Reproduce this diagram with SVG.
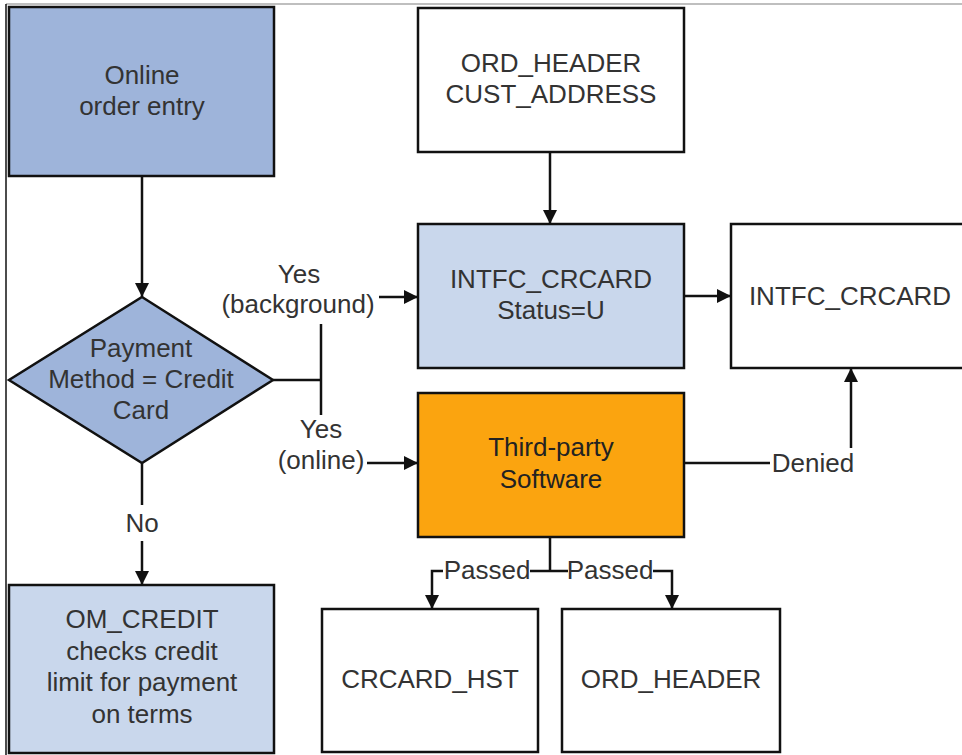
<svg xmlns="http://www.w3.org/2000/svg" width="962" height="755" viewBox="0 0 962 755">
<defs>
<marker id="ah" markerWidth="14" markerHeight="14" refX="14" refY="7" orient="auto" markerUnits="userSpaceOnUse">
<path d="M0,0 L14,7 L0,14 Z" fill="#111"/>
</marker>
<style>
.box{stroke:#111;stroke-width:2.5}
.t{font-family:"Liberation Sans",Arial,sans-serif;font-size:26px;fill:#333;text-anchor:middle}
.c{fill:none;stroke:#111;stroke-width:2.5}
</style>
</defs>
<rect width="962" height="755" fill="#fff"/>
<line x1="6" y1="4" x2="962" y2="4" stroke="#aaa" stroke-width="1.5"/>
<line x1="6" y1="4" x2="6" y2="755" stroke="#111" stroke-width="1.5"/>

<g id="online-order-entry">
<rect class="box" x="9" y="7" width="265" height="169" fill="#9EB4DA"/>
<text class="t" x="142" y="84">Online</text>
<text class="t" x="142" y="115">order entry</text>
</g>

<g id="payment-decision">
<polygon class="box" points="142,297 273,380 142,463 9,380" fill="#9EB4DA"/>
<text class="t" x="141" y="357">Payment</text>
<text class="t" x="141" y="388">Method = Credit</text>
<text class="t" x="141" y="419">Card</text>
</g>

<g id="ord-header-cust-address">
<rect class="box" x="418" y="8" width="266" height="144" fill="#fff"/>
<text class="t" x="551" y="72">ORD_HEADER</text>
<text class="t" x="551" y="103">CUST_ADDRESS</text>
</g>

<g id="intfc-crcard-status">
<rect class="box" x="418" y="224" width="266" height="144" fill="#C9D7EC"/>
<text class="t" x="551" y="288">INTFC_CRCARD</text>
<text class="t" x="551" y="319">Status=U</text>
</g>

<g id="intfc-crcard">
<rect class="box" x="731" y="224" width="240" height="144" fill="#fff"/>
<text class="t" x="850" y="305">INTFC_CRCARD</text>
</g>

<g id="third-party-software">
<rect class="box" x="418" y="393" width="266" height="144" fill="#FBA40F"/>
<text class="t" x="551" y="456" style="fill:#222">Third-party</text>
<text class="t" x="551" y="488" style="fill:#222">Software</text>
</g>

<g id="crcard-hst">
<rect class="box" x="322" y="609" width="216" height="143" fill="#fff"/>
<text class="t" x="430" y="688">CRCARD_HST</text>
</g>

<g id="ord-header">
<rect class="box" x="562" y="609" width="218" height="143" fill="#fff"/>
<text class="t" x="671" y="688">ORD_HEADER</text>
</g>

<g id="om-credit">
<rect class="box" x="9" y="585" width="265" height="168" fill="#C9D7EC"/>
<text class="t" x="142" y="628">OM_CREDIT</text>
<text class="t" x="142" y="660">checks credit</text>
<text class="t" x="142" y="691">limit for payment</text>
<text class="t" x="142" y="723">on terms</text>
</g>

<g id="connectors">
<line class="c" x1="142" y1="176" x2="142" y2="297" marker-end="url(#ah)"/>
<line class="c" x1="550" y1="152" x2="550" y2="224" marker-end="url(#ah)"/>
<polyline class="c" points="273,380 321,380"/>
<line class="c" x1="321" y1="324" x2="321" y2="415"/>
<line class="c" x1="379" y1="297" x2="418" y2="297" marker-end="url(#ah)"/>
<line class="c" x1="367" y1="463" x2="418" y2="463" marker-end="url(#ah)"/>
<line class="c" x1="684" y1="296" x2="731" y2="296" marker-end="url(#ah)"/>
<line class="c" x1="684" y1="463" x2="770" y2="463"/>
<line class="c" x1="851" y1="448" x2="851" y2="368" marker-end="url(#ah)"/>
<line class="c" x1="142" y1="463" x2="142" y2="505"/>
<line class="c" x1="142" y1="541" x2="142" y2="585" marker-end="url(#ah)"/>
<line class="c" x1="550" y1="537" x2="550" y2="571"/>
<line class="c" x1="530" y1="571" x2="568" y2="571"/>
<polyline class="c" points="443,571 432,571 432,609" marker-end="url(#ah)"/>
<polyline class="c" points="653,571 672,571 672,609" marker-end="url(#ah)"/>
<text class="t" x="299" y="283">Yes</text>
<text class="t" x="298" y="313">(background)</text>
<text class="t" x="321" y="438">Yes</text>
<text class="t" x="321" y="469">(online)</text>
<text class="t" x="142" y="532">No</text>
<text class="t" x="813" y="472">Denied</text>
<text class="t" x="487" y="579">Passed</text>
<text class="t" x="610" y="579">Passed</text>
</g>
</svg>
